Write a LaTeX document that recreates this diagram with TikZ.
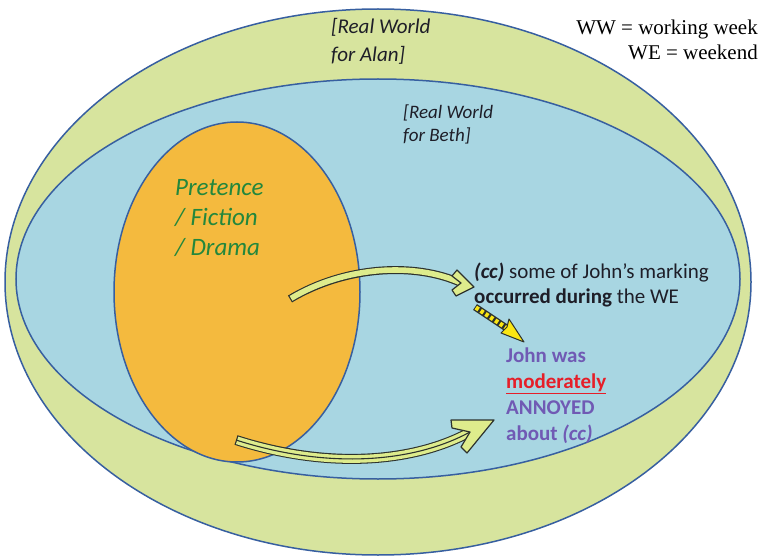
\documentclass[tikz,border=0pt]{standalone}
\usepackage{fontspec}
\setmainfont{Liberation Serif}
\newfontfamily\calfont{Carlito}
\usetikzlibrary{calc}
\definecolor{outerc}{RGB}{215,228,158}
\definecolor{innerc}{RGB}{168,214,226}
\definecolor{orangec}{RGB}{244,186,62}
\definecolor{edgec}{RGB}{55,95,160}
\definecolor{arrowc}{RGB}{222,236,140}
\definecolor{arrowedge}{RGB}{45,50,45}
\definecolor{greenc}{RGB}{35,135,60}
\definecolor{purplec}{RGB}{112,90,180}
\definecolor{redc}{RGB}{230,30,40}
\definecolor{textc}{RGB}{30,30,40}
\definecolor{doty}{RGB}{250,230,20}
\tikzset{
  region/.style={draw=edgec, line width=1.5pt},
  sanslabel/.style={anchor=west, align=left, inner sep=0pt, text=textc},
  headstyle/.style={fill=arrowc, draw=arrowedge, line width=1.2pt, line join=round},
}
\begin{document}
\begin{tikzpicture}[x=1pt,y=-1pt]
\useasboundingbox (0,0) rectangle (761,559);
\fill[white] (0,0) rectangle (761,559);
% regions
\filldraw[region, fill=outerc] (378,282) ellipse [x radius=373, y radius=273];
\filldraw[region, fill=innerc] (378,279) ellipse [x radius=362, y radius=200];
\filldraw[region, fill=orangec] (237,292) ellipse [x radius=123, y radius=170];
% texts
\node[sanslabel, font=\calfont\itshape\fontsize{21}{28}\selectfont] (alan) at (331,41) {[Real World\\for Alan]};
\node[sanslabel, font=\calfont\itshape\fontsize{19}{23}\selectfont] (beth) at (403,124) {[Real World\\for Beth]};
\node[anchor=east, align=right, inner sep=0pt, font=\fontsize{21}{25}\selectfont] (key) at (758,40) {WW = working week\\WE = weekend};
\node[sanslabel, text=greenc, font=\calfont\itshape\fontsize{25}{30}\selectfont] (pretence) at (175,218) {Pretence\\/ Fiction\\/ Drama};
\node[sanslabel, font=\calfont\fontsize{21}{25}\selectfont] (cc) at (474,285) {\textbf{\textit{(cc)}} some of John’s marking\\\textbf{occurred during} the WE};
\node[sanslabel, text=purplec, font=\calfont\bfseries\fontsize{21}{26}\selectfont] (john) at (506,396) {John was\\\textcolor{redc}{\underline{moderately}}\\ANNOYED\\about \textit{(cc)}};
% upper arrow
\coordinate (u1) at (290,299);
\coordinate (u2) at (461,283);
\draw[arrowedge, line width=8pt] (u1) .. controls (345,266) and (415,262) .. (u2);
\draw[arrowc, line width=5.6pt, shorten <=1.2pt] (u1) .. controls (345,266) and (415,262) .. (u2);
\filldraw[headstyle] (474,287) -- (457,270) -- (452,276) -- (461,283) -- (452,290) -- (456,296) -- cycle;
% dotted arrow
\coordinate (d1) at (475,307);
\coordinate (d2) at (508,329);
\draw[arrowedge, line width=7pt] (d1) -- (d2);
\draw[doty, line width=4.4pt, dash pattern=on 3.4pt off 2.4pt, shorten <=1pt] (d1) -- (d2);
\filldraw[fill=doty, draw=arrowedge, line width=1pt, line join=round] (524,342) -- (509,319) -- (507,327) -- (501,333) -- cycle;
% lower arrow
\coordinate (l1) at (236,440);
\coordinate (l2) at (470,432);
\draw[arrowedge, line width=10pt] (l1) .. controls (330,470) and (415,462) .. (l2);
\draw[arrowc, line width=7.8pt, shorten <=1.2pt] (l1) .. controls (330,470) and (415,462) .. (l2);
\draw[arrowedge, line width=1.1pt, shorten <=1pt] (l1) .. controls (330,470) and (415,462) .. (l2);
\filldraw[headstyle] (494,420) -- (451,420) -- (452,428) -- (470,432) -- (461,447) -- (467,453) -- cycle;
\end{tikzpicture}
\end{document}
